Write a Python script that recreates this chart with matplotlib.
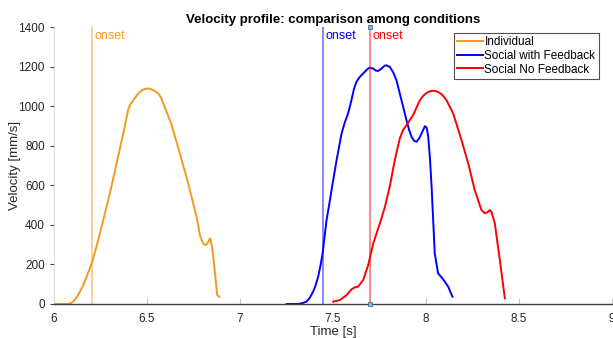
import matplotlib
matplotlib.use("Agg")
import matplotlib.pyplot as plt

plt.rcParams['font.family'] = ['Liberation Sans', 'DejaVu Sans']

# Individual
ind_t = [6.005, 6.077, 6.09, 6.104, 6.122, 6.14, 6.158, 6.176, 6.203, 6.229, 6.265, 6.301, 6.337,
         6.373, 6.39, 6.40, 6.413, 6.426, 6.444, 6.462, 6.48, 6.498, 6.516, 6.534, 6.561, 6.575,
         6.588, 6.61, 6.633, 6.677, 6.722, 6.767, 6.785, 6.80, 6.812, 6.822, 6.83, 6.839, 6.846,
         6.853, 6.866, 6.878, 6.889]
ind_v = [0, 0, 4, 12, 33, 62, 97, 138, 205, 290, 424, 559, 711,
         862, 940, 985, 1012, 1030, 1052, 1072, 1084, 1089, 1088, 1081, 1064, 1045,
         1014, 962, 904, 761, 610, 441, 348, 310, 298, 302, 315, 332, 310,
         273, 155, 45, 37]

# Social with Feedback
swf_t = [7.251, 7.314, 7.338, 7.358, 7.376, 7.394, 7.408, 7.421, 7.433, 7.445, 7.466, 7.48, 7.493,
         7.507, 7.52, 7.547, 7.565, 7.582, 7.600, 7.613, 7.627, 7.645, 7.663, 7.68, 7.695, 7.717,
         7.73, 7.744, 7.762, 7.775, 7.785, 7.806, 7.825, 7.842, 7.869, 7.896, 7.91, 7.923, 7.937,
         7.95, 7.965, 7.977, 7.995, 8.005, 8.013, 8.022, 8.031, 8.048, 8.066, 8.093, 8.12, 8.143]
swf_v = [0, 0, 5, 12, 32, 62, 97, 138, 192, 256, 424, 500, 576,
         655, 727, 862, 920, 963, 1030, 1085, 1123, 1148, 1165, 1182, 1194, 1190,
         1180, 1178, 1190, 1202, 1207, 1199, 1170, 1131, 1030, 929, 880, 845, 825,
         820, 838, 862, 899, 890, 845, 740, 593, 256, 155, 125, 88, 37]

# Social No Feedback
snf_t = [7.502, 7.538, 7.574, 7.600, 7.618, 7.636, 7.663, 7.69, 7.717, 7.753, 7.780, 7.806,
         7.833, 7.86, 7.878, 7.896, 7.932, 7.968, 7.986, 8.004, 8.021, 8.039, 8.057, 8.075,
         8.093, 8.111, 8.147, 8.192, 8.228, 8.263, 8.299, 8.317, 8.33, 8.344, 8.353, 8.371,
         8.398, 8.425]
snf_v = [12, 20, 45, 74, 84, 88, 121, 197, 306, 408, 491, 593,
         727, 837, 880, 904, 955, 1030, 1052, 1067, 1075, 1078, 1075, 1067,
         1052, 1030, 963, 828, 711, 576, 475, 459, 463, 475, 465, 408,
         222, 29]

onsets = [6.204, 7.446, 7.699]
series_names = ["Individual", "Social with Feedback", "Social No Feedback"]
colors = ["#F39A1E", "#0000FF", "#FF0000"]

xticks = [6, 6.5, 7, 7.5, 8, 8.5, 9]
xticklabels = ["6", "6.5", "7", "7.5", "8", "8.5", "9"]
yticks = [0, 200, 400, 600, 800, 1000, 1200, 1400]

fig = plt.figure(figsize=(6.13, 3.38), dpi=100)
ax = fig.add_axes([0.088, 0.1006, 0.910, 0.8195])

for (t, v), c, n in zip([(ind_t, ind_v), (swf_t, swf_v), (snf_t, snf_v)], colors, series_names):
    ax.plot(t, v, color=c, lw=1.4, label=n, solid_joinstyle='round')

for x, c in zip(onsets, colors):
    ax.axvline(x, color=c, lw=1.1, alpha=0.6)
    ax.text(x + 0.015, 1385, "onset", color=c, fontsize=9, va='top', ha='left')

# datatip markers on red onset line
ax.plot([onsets[2], onsets[2]], [0, 1400], ls='none', marker='s', ms=3,
        mfc='#8fb4d9', mec='#3a6ea5', mew=0.6, clip_on=False, zorder=5)

ax.set_xlim(6, 9)
ax.set_ylim(0, 1400)
ax.set_xticks(xticks)
ax.set_xticklabels(xticklabels)
ax.set_yticks(yticks)
ax.tick_params(axis='x', direction='in', length=4, color='#c8c8c8', labelsize=8.5,
               labelcolor='#262626', pad=6.5)
ax.tick_params(axis='y', direction='out', length=3, color='#404040', labelsize=8.5,
               labelcolor='#262626')
for s in ['top', 'right']:
    ax.spines[s].set_visible(False)
ax.spines['left'].set_color('#dcdcdc')
ax.spines['bottom'].set_color('#404040')
ax.spines['bottom'].set_linewidth(1.0)

ax.set_xlabel("Time [s]", fontsize=9.5, color='#262626', labelpad=1)
ax.set_ylabel("Velocity [mm/s]", fontsize=9.5, color='#262626', labelpad=-2)
ax.set_title("Velocity profile: comparison among conditions", fontsize=9.5,
             fontweight='bold', pad=3)

leg = ax.legend(loc='upper right', bbox_to_anchor=(0.977, 0.98), fontsize=8.5,
                frameon=True, fancybox=False, handlelength=2.2, handletextpad=0.1,
                borderpad=0.3, labelspacing=0.15, borderaxespad=0)
leg.get_frame().set_edgecolor('#262626')
leg.get_frame().set_linewidth(0.8)

fig.savefig("out.png", dpi=100)
